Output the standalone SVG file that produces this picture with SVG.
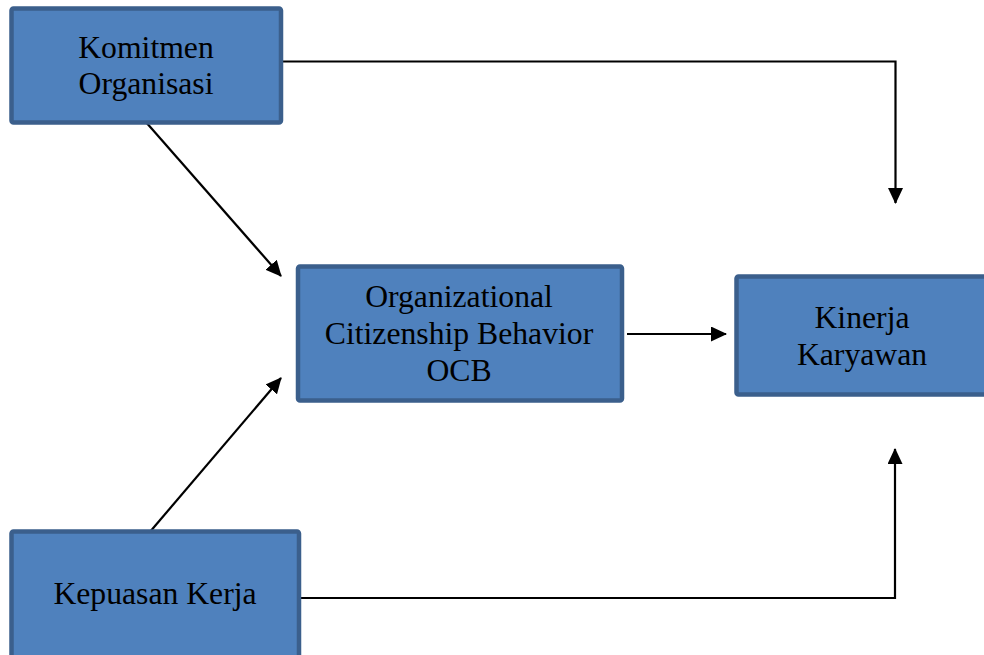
<svg xmlns="http://www.w3.org/2000/svg" width="984" height="655" viewBox="0 0 984 655">
<style>
.box{fill:#4f81bd;stroke:#3b5f8c;stroke-width:4.5}
.lbl{font-family:"Liberation Serif","Times New Roman",serif;font-size:31.7px;fill:#000;text-anchor:middle}
.conn{fill:none;stroke:#000;stroke-width:2.2}
</style>
<defs>
<marker id="ah" markerUnits="userSpaceOnUse" markerWidth="16" markerHeight="15" refX="15" refY="7.5" orient="auto">
<path d="M0,0 L16,7.5 L0,15 Z" fill="#000"/>
</marker>
</defs>
<rect width="984" height="655" fill="#fff"/>
<g id="connectors">
<polyline class="conn" points="283,61.5 895.5,61.5 895.5,203" marker-end="url(#ah)"/>
<polyline class="conn" points="301,598 895,598 895,449" marker-end="url(#ah)"/>
<line class="conn" x1="145" y1="121" x2="281" y2="276" marker-end="url(#ah)"/>
<line class="conn" x1="149" y1="533" x2="281" y2="378" marker-end="url(#ah)"/>
<line class="conn" x1="627" y1="334" x2="726" y2="334" marker-end="url(#ah)"/>
</g>
<g id="komitmen">
<rect class="box" x="11.5" y="8.5" width="269.5" height="114" rx="2"/>
<text class="lbl" x="146" y="58">Komitmen</text>
<text class="lbl" x="146" y="94">Organisasi</text>
</g>
<g id="ocb">
<rect class="box" x="298" y="266.5" width="324" height="134" rx="2"/>
<text class="lbl" x="459" y="307">Organizational</text>
<text class="lbl" x="459" y="344">Citizenship Behavior</text>
<text class="lbl" x="459" y="381">OCB</text>
</g>
<g id="kinerja">
<rect class="box" x="736.5" y="276.5" width="254" height="118" rx="2"/>
<text class="lbl" x="862" y="328">Kinerja</text>
<text class="lbl" x="862" y="365">Karyawan</text>
</g>
<g id="kepuasan">
<rect class="box" x="11.5" y="531.5" width="287.5" height="130" rx="2"/>
<text class="lbl" x="155" y="604">Kepuasan Kerja</text>
</g>
</svg>
